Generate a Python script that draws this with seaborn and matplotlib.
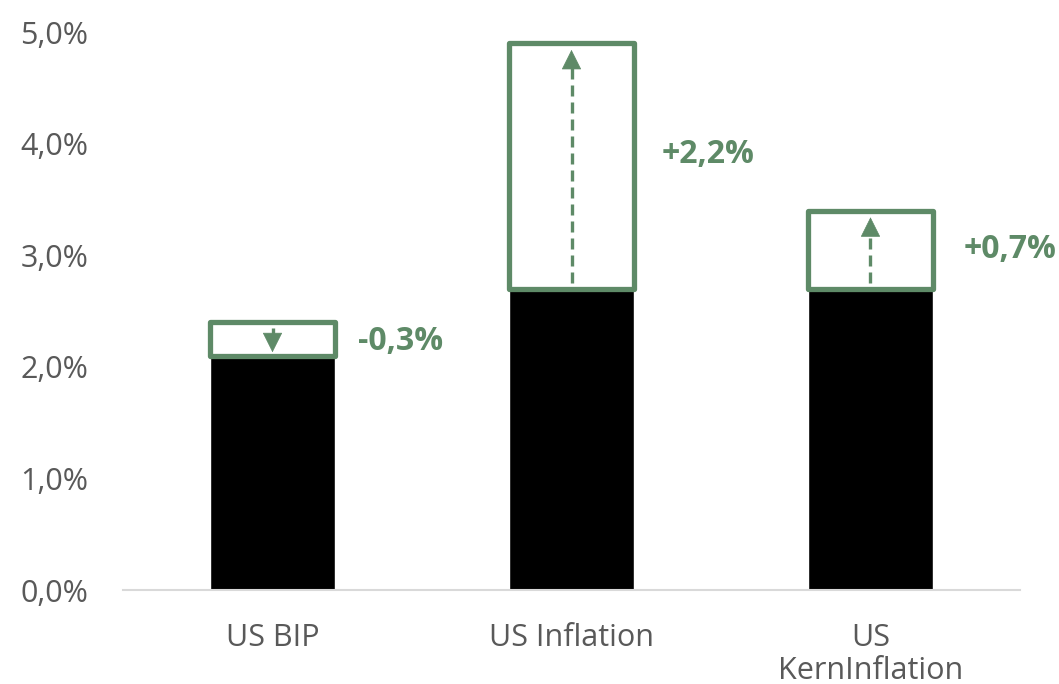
import matplotlib
matplotlib.use("Agg")
import matplotlib.pyplot as plt
import seaborn as sns
import pandas as pd

categories = ["US BIP", "US Inflation", "US\nKernInflation"]
old_values = [2.4, 2.7, 2.7]
new_values = [2.1, 4.9, 3.4]
change_labels = ["-0,3%", "+2,2%", "+0,7%"]
y_ticks = [0, 1, 2, 3, 4, 5]
y_tick_labels = ["0,0%", "1,0%", "2,0%", "3,0%", "4,0%", "5,0%"]

GREEN = "#5E8A67"
GREY_TEXT = "#595959"

sns.set_theme(style="white")
plt.rcParams["font.family"] = ["Open Sans", "DejaVu Sans"]

fig = plt.figure(figsize=(10.59, 6.84), dpi=100)
ax = fig.add_axes([123 / 1059, 1 - 590 / 684, (1020 - 123) / 1059, (590 - 32) / 684])

base_values = [min(o, n) for o, n in zip(old_values, new_values)]
df = pd.DataFrame({"cat": categories, "base": base_values})
bar_w = 0.415

sns.barplot(data=df, x="cat", y="base", color="black", saturation=1,
            width=bar_w, ax=ax, zorder=2)

head_len = 0.14
for i, (o, n) in enumerate(zip(old_values, new_values)):
    lo, hi = min(o, n), max(o, n)
    ax.bar(i, hi - lo, bottom=lo, width=bar_w, fill=False, edgecolor=GREEN,
           linewidth=3.8, joinstyle="round", zorder=3)
    direction = 1 if n > o else -1
    start = o + direction * 0.05
    tip = n - direction * (0.06 if direction > 0 else 0.03)
    line_end = tip - direction * head_len
    ax.plot([i, i], [start, line_end], color=GREEN, lw=2.4,
            linestyle=(0, (3.3, 1.8)), zorder=4, solid_capstyle="butt")
    ax.annotate("", xy=(i, tip), xytext=(i, tip - direction * (head_len + 0.01)),
                arrowprops=dict(arrowstyle="-|>,head_length=1.1,head_width=0.55",
                                color=GREEN, lw=0.5, shrinkA=0, shrinkB=0),
                zorder=5)

label_y = [2.23, 3.9, 3.05]
label_x_offset = [0.285, 0.3, 0.31]
for i, (lab, ly) in enumerate(zip(change_labels, label_y)):
    ax.text(i + label_x_offset[i], ly, lab, color=GREEN, fontsize=23,
            fontweight="bold", ha="left", va="center")

ax.set_xlim(-0.5, 2.5)
ax.set_ylim(0, 5)
ax.set_yticks(y_ticks)
ax.set_yticklabels(y_tick_labels)
ax.set_xlabel("")
ax.set_ylabel("")
ax.tick_params(axis="y", length=0, pad=25, labelsize=22, labelcolor=GREY_TEXT)
ax.tick_params(axis="x", length=0, pad=24, labelsize=22, labelcolor=GREY_TEXT)
for t in ax.get_xticklabels():
    t.set_linespacing(1.1)
for s in ["left", "right", "top"]:
    ax.spines[s].set_visible(False)
ax.spines["bottom"].set_color("#D9D9D9")
ax.spines["bottom"].set_linewidth(1.5)
ax.spines["bottom"].set_zorder(6)
ax.grid(False)

fig.savefig("out.png", dpi=100)
